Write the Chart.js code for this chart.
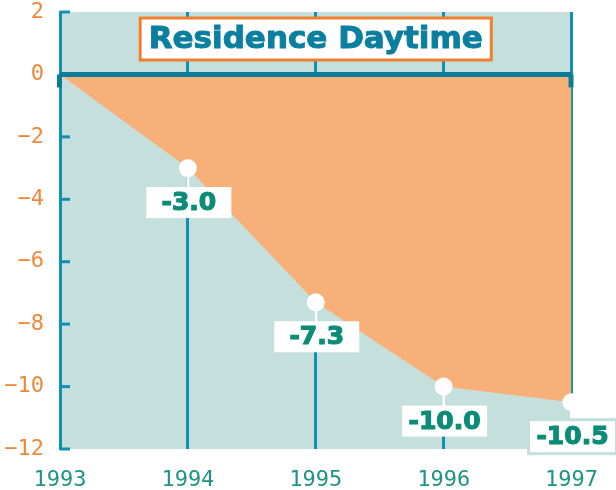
<!DOCTYPE html>
<html>
<head>
<meta charset="utf-8">
<script src="https://cdn.jsdelivr.net/npm/chart.js@4/dist/chart.umd.min.js"></script>
<style>
  html, body { margin: 0; padding: 0; background: #ffffff; }
  #wrap { width: 616px; height: 490px; }
</style>
</head>
<body>
<div id="wrap"><canvas id="chart" width="616" height="490"></canvas></div>
<script>
// Chart data
const years = ["1993", "1994", "1995", "1996", "1997"];
const values = [0, -3.0, -7.3, -10.0, -10.5];
const valueLabels = ["", "-3.0", "-7.3", "-10.0", "-10.5"];
const chartTitle = "Residence Daytime";

// Colours
const teal = "#c5e0dc";
const orange = "#f8b079";
const blue = "#1090b4";
const darkBlue = "#0a7c98";
const labelGreen = "#0a8c78";
const tickOrange = "#f0883a";

// Light teal panel behind the plot
const backgroundPlugin = {
  id: "panel",
  beforeDraw(chart) {
    const { ctx, chartArea } = chart;
    ctx.save();
    ctx.fillStyle = teal;
    ctx.fillRect(chartArea.left, chartArea.top, chartArea.right - chartArea.left, chartArea.bottom - chartArea.top);
    ctx.restore();
  }
};

// White stems from each point down to its label box
const stemPlugin = {
  id: "stems",
  beforeDatasetsDraw(chart) {
    const { ctx } = chart;
    const meta = chart.getDatasetMeta(0);
    ctx.save();
    ctx.strokeStyle = "#ffffff";
    ctx.lineWidth = 3;
    meta.data.forEach(function (pt, i) {
      if (!valueLabels[i]) return;
      ctx.beginPath();
      ctx.moveTo(pt.x, pt.y);
      ctx.lineTo(pt.x, pt.y + 20);
      ctx.stroke();
    });
    ctx.restore();
  }
};

// Zero line, inward ticks, value boxes and the title box
const overlayPlugin = {
  id: "overlay",
  afterDatasetsDraw(chart) {
    const { ctx, chartArea, scales } = chart;
    const y = scales.y;
    ctx.save();

    // inward ticks on the left axis
    ctx.strokeStyle = blue;
    ctx.lineWidth = 3;
    y.ticks.forEach(function (t) {
      const py = y.getPixelForValue(t.value);
      ctx.beginPath();
      ctx.moveTo(chartArea.left, py);
      ctx.lineTo(chartArea.left + 10, py);
      ctx.stroke();
    });

    // thick zero line
    const y0 = y.getPixelForValue(0);
    ctx.strokeStyle = darkBlue;
    ctx.lineWidth = 5;
    ctx.beginPath();
    ctx.moveTo(chartArea.left, y0);
    ctx.lineTo(chartArea.right, y0);
    ctx.stroke();
    ctx.fillStyle = darkBlue;
    ctx.fillRect(chartArea.left - 3, y0, 5, 13);
    ctx.fillRect(chartArea.right - 3, y0, 5, 13);

    // value label boxes
    const meta = chart.getDatasetMeta(0);
    ctx.font = "bold 25px 'DejaVu Sans', sans-serif";
    ctx.textAlign = "center";
    ctx.textBaseline = "middle";
    ctx.lineWidth = 1.2;
    meta.data.forEach(function (pt, i) {
      const txt = valueLabels[i];
      if (!txt) return;
      const w = 85, h = 31;
      const bx = pt.x - w / 2 + 1;
      const by = pt.y + 19;
      if (i === values.length - 1) {
        ctx.fillStyle = teal;
        ctx.fillRect(bx - 3, by - 3, w + 6, h + 6);
      }
      ctx.fillStyle = "#ffffff";
      ctx.fillRect(bx, by, w, h);
      ctx.fillStyle = labelGreen;
      ctx.strokeStyle = labelGreen;
      ctx.fillText(txt, bx + w / 2, by + h / 2 + 1);
      ctx.strokeText(txt, bx + w / 2, by + h / 2 + 1);
    });

    // title box
    const cx = (chartArea.left + chartArea.right) / 2;
    ctx.font = "bold 31px 'DejaVu Sans', sans-serif";
    const tw = ctx.measureText(chartTitle).width;
    const boxW = tw + 17, boxH = 42;
    const boxX = cx - boxW / 2, boxY = chartArea.top + 6;
    ctx.fillStyle = "#ffffff";
    ctx.fillRect(boxX, boxY, boxW, boxH);
    ctx.strokeStyle = "#f08030";
    ctx.lineWidth = 3;
    ctx.strokeRect(boxX, boxY, boxW, boxH);
    ctx.fillStyle = "#0a7fa0";
    ctx.strokeStyle = "#0a7fa0";
    ctx.lineWidth = 1;
    ctx.fillText(chartTitle, cx, boxY + boxH / 2 + 1);
    ctx.strokeText(chartTitle, cx, boxY + boxH / 2 + 1);

    ctx.restore();
  }
};

const ctx = document.getElementById("chart").getContext("2d");
const chart = new Chart(ctx, {
  type: "line",
  data: {
    labels: years,
    datasets: [
      {
        data: values,
        fill: { value: 0 },
        backgroundColor: orange,
        borderWidth: 0,
        borderColor: "rgba(0,0,0,0)",
        tension: 0,
        pointRadius: values.map(function (v, i) { return valueLabels[i] ? 9 : 0; }),
        pointBackgroundColor: "#ffffff",
        pointBorderWidth: 0,
        clip: false
      }
    ]
  },
  options: {
    responsive: false,
    animation: false,
    layout: { padding: { top: 12, right: 43, left: 0, bottom: 0 } },
    plugins: {
      legend: { display: false },
      tooltip: { enabled: false }
    },
    scales: {
      x: {
        offset: false,
        grid: { display: true, color: blue, lineWidth: 3, drawTicks: false, offset: false },
        border: { display: false },
        ticks: {
          color: "#1f9483",
          font: { family: "'DejaVu Sans Mono', monospace", size: 22 },
          padding: 18,
          maxRotation: 0,
          autoSkip: false
        },
        afterFit(scale) { scale.height = 41; }
      },
      y: {
        min: -12,
        max: 2,
        grid: { display: false, drawTicks: false },
        border: { display: true, color: blue, width: 3 },
        ticks: {
          stepSize: 2,
          color: tickOrange,
          font: { family: "'DejaVu Sans Mono', monospace", size: 22 },
          padding: 16,
          callback: function (v) { return v < 0 ? "\u2212" + Math.abs(v) : String(v); }
        },
        afterFit(scale) {
          scale.width = 60;
          scale.paddingTop = 0;
          scale.paddingBottom = 0;
        }
      }
    }
  },
  plugins: [backgroundPlugin, stemPlugin, overlayPlugin]
});
</script>
</body>
</html>
